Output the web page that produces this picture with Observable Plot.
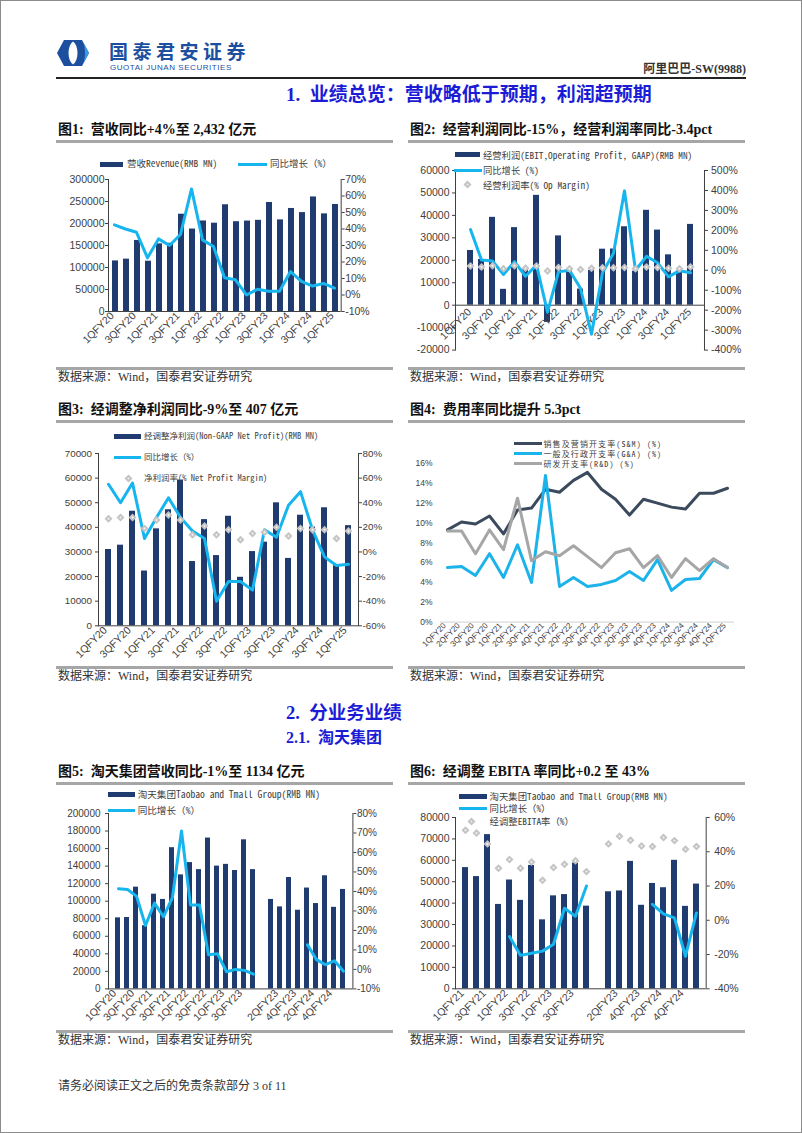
<!DOCTYPE html>
<html><head><meta charset="utf-8">
<script src="https://cdn.jsdelivr.net/npm/d3@7"></script>
<script src="https://cdn.jsdelivr.net/npm/@observablehq/plot@0.6"></script>
<style>
body{margin:0;background:#fff;}
#page{position:relative;width:802px;height:1133px;overflow:hidden;background:#fff;box-shadow:inset 0 0 0 1px #8c8c8c;font-family:"Liberation Serif","Noto Sans CJK SC",serif;}
.abs{position:absolute;white-space:nowrap;}
.ftitle{font-weight:bold;color:#111;}
.src{color:#333;}
.sec{font-weight:bold;color:#1c1cd6;}
.leg{font-family:"Noto Sans Mono CJK SC","Liberation Mono","Noto Sans CJK SC",monospace;color:#404040;}
</style></head><body><div id="page"></div>
<script>
// ---------------- data ----------------
const qAll = ["1QFY20","2QFY20","3QFY20","4QFY20","1QFY21","2QFY21","3QFY21","4QFY21","1QFY22","2QFY22","3QFY22","4QFY22","1QFY23","2QFY23","3QFY23","4QFY23","1QFY24","2QFY24","3QFY24","4QFY24","1QFY25"];
// Fig 1
const revenue = [114924,119017,161456,114314,153751,155059,221084,187395,205740,200690,242580,204052,205555,207176,247756,208200,234156,224790,260348,221874,243236];
const revenueYoY = [42.5,40,38,22.5,34,30,36.7,64.3,33.4,29.4,10.4,9.2,0,3.5,2.3,2.3,14.2,8.2,5.4,7,4.1];
// Fig 2
const opProfit = [24375,20364,39134,7064,34557,15719,48929,-7653,30874,15806,7200,15500,24943,25015,34938,15142,42271,33462,22437,15200,35989];
const opYoY = [204,52,47,-21,43,-30,26,-210,-8,0,-90,-320,-12,85,398,0,70,38,-33,-2,-12];
const opMargin = [21,16,23,8,23,10,21,-4,14,8,4,10,13,13,14,8,16,14,10,8,16];
// Fig 3
const nonGaap = [30999,32752,46545,22248,39389,47135,59207,26108,43141,28524,44502,19710,30154,33981,49962,27375,44923,40113,47950,24426,40691];
const nonGaapYoY = [55,40,56,11,28,44,28,17,11,-40,-24,-24,-31,18,12,38,49,18,-4,-11,-10];
const netMargin = [27,28,28,19,26,30,26,14,21,14,18,10,15,16,20,13,19,18,18,11,17];
// Fig 4
const smRate = [9.3,10.1,9.9,10.7,8.9,11.3,11.5,13.4,13.1,14.3,15.1,13.4,12.4,10.8,12.4,12.0,11.6,11.4,13.0,13.0,13.5];
const gaRate = [5.5,5.6,4.7,6.9,4.5,7.8,4.0,14.8,3.6,4.5,3.6,3.8,4.2,5.1,4.2,6.3,3.2,4.3,4.4,6.3,5.5];
const rdRate = [9.2,9.2,6.9,9.3,7.3,12.5,6.2,7.1,6.7,7.7,6.6,5.5,7.0,7.4,5.5,6.7,4.5,6.4,5.2,6.4,5.5];
// Fig 5 (old segment 1QFY20-4QFY23, restated 1QFY23-1QFY25)
const ttOldQ = qAll.slice(0,16);
const ttOldRev = [81000,81400,116000,72000,108000,102000,161000,130000,144000,136000,172000,140000,142000,135000,170000,136000];
const ttOldYoY = [41.4,41,37.6,22.5,34,27,37,71,33,33,7.5,8,-1.2,0,-0.5,-2.4];
const ttNewQ = qAll.slice(12);
const ttNewRev = [102000,93500,127000,89700,115000,97300,129000,93000,113400];
const ttNewYoY = [null,null,null,null,12.6,5,2.4,4.4,-0.9];
// Fig 6
const ebOldQ = qAll.slice(4,16);
const ebOld = [56600,52400,72000,39400,50800,41300,57600,32200,43400,44000,58700,38600];
const ebOldYoY = [null,null,null,null,-9.5,-20.5,-19.3,-18,-14,7,2.4,20];
const ebOldMargin = [52.5,51,44.6,30.4,35.5,30.4,34,23.3,30.8,32.7,34.7,28.4];
const ebNewQ = qAll.slice(12);
const ebNew = [45300,45700,59500,39000,49200,47200,60000,38500,48900];
const ebNewYoY = [null,null,null,null,9.3,3.7,1.4,-21,4.3];
const ebNewMargin = [44.6,49,46.7,43.4,43,48.3,46.5,41.4,43];

// ---------------- helpers ----------------
const navy = "#1f3b70", cyan = "#17b5ee", grey = "#c4c4c4", axisC = "#404040";
const page = document.getElementById("page");
function addDiv(html, css, cls) { const d = document.createElement("div"); d.className = "abs " + (cls || ""); d.innerHTML = html; Object.assign(d.style, css); page.appendChild(d); return d; }
function rule(x, y, w, h, c) { addDiv("", {left: x + "px", top: y + "px", width: w + "px", height: h + "px", background: c}); }
function textAt(x, yc, str, fs, cls, extra) { return addDiv(str, Object.assign({left: x + "px", top: (yc - fs * 0.7) + "px", fontSize: fs + "px", lineHeight: (fs * 1.4) + "px"}, extra || {}), cls); }
const M = {l: 70, r: 60, t: 30, b: 60};
function dims(f) { return {width: f.x1 - f.x0 + M.l + M.r, height: f.y1 - f.y0 + M.t + M.b, marginLeft: M.l, marginRight: M.r, marginTop: M.t, marginBottom: M.b}; }
function mount(svg, f) { const d = document.createElement("div"); d.style.position = "absolute"; d.style.left = (f.x0 - M.l) + "px"; d.style.top = (f.y0 - M.t) + "px"; d.appendChild(svg); page.appendChild(d); }
const baseStyle = {background: "transparent", overflow: "visible", fontFamily: "'Liberation Sans', Arial, sans-serif", color: axisC, maxWidth: "none"};

function barPlot(f, keys, rows, labels, o) {
  return Plot.plot({
    ...dims(f),
    style: {...baseStyle, fontSize: o.fs + "px"},
    x: {type: "band", domain: keys, paddingInner: 0.5, paddingOuter: 0.25, axis: null},
    y: {domain: o.domain},
    marks: [
      Plot.barY(rows, {x: "k", y: "v", fill: navy}),
      Plot.ruleY([0], {stroke: axisC}),
      Plot.axisY({anchor: "left", label: null, ticks: o.ticks, tickSize: 3, tickPadding: o.lp, tickFormat: d => String(d), fontSize: o.fs}),
      Plot.frame({anchor: "left", stroke: axisC}),
      Plot.text(labels, {x: "k", text: "t", ...(o.zeroLabels ? {y: () => 0} : {frameAnchor: "bottom"}), rotate: -45, textAnchor: "end", dx: -1, dy: 5, fontSize: o.xfs || o.fs})
    ]
  });
}
function linePlot(f, keys, rows, o) {
  const withM = rows.filter(d => d.m != null);
  return Plot.plot({
    ...dims(f),
    style: {...baseStyle, fontSize: o.fs + "px"},
    x: {type: "point", domain: keys, padding: 0.5, axis: null},
    y: {domain: o.domain},
    marks: [
      Plot.line(rows, {x: "k", y: "g", stroke: cyan, strokeWidth: 3}),
      Plot.dot(withM, {x: "k", y: "m", symbol: "diamond2", r: 3.6, fill: grey}),
      Plot.dot(withM, {x: "k", y: "m", symbol: "diamond2", r: 1.1, fill: "#f4f4f4"}),
      Plot.axisY({anchor: "right", label: null, ticks: o.ticks, tickSize: 3, tickPadding: o.rp, tickFormat: d => d + "%", fontSize: o.fs}),
      Plot.frame({anchor: "right", stroke: axisC})
    ]
  });
}
function legBar(x, w, yc) { rule(x, yc - 2.5, w, 5, navy); }
function legLine(x, w, yc, c) { rule(x, yc - 1.5, w, 3, c || cyan); }
function legDia(x, yc) { addDiv('<svg width="9" height="9"><path d="M4.5 0.5L8.5 4.5L4.5 8.5L0.5 4.5Z" fill="#c4c4c4"/><path d="M4.5 3.4L5.6 4.5L4.5 5.6L3.4 4.5Z" fill="#f4f4f4"/></svg>', {left: (x - 4.5) + "px", top: (yc - 4.5) + "px", lineHeight: "0"}); }
function legText(x, yc, s, fs, lh, extra) { lh = lh || fs * 1.4; textAt(x, yc, s, fs, "leg", Object.assign({lineHeight: lh + "px", top: (yc - lh / 2) + "px"}, extra || {})); }
const ticksR = (a, b, s) => d3.range(a, b + s / 2, s);

// ---------------- header ----------------
addDiv('<svg width="34" height="28" viewBox="0 0 34 28"><path d="M8 1H26L33 14L26 27H8L1 14Z" fill="#1d4f9f"/><path d="M26 1L33 14L26 27C30 20 30 8 26 1Z" fill="#3b9ae1"/><path d="M17 2.5C11 7 11 21 17 25.5C23 21 23 7 17 2.5Z" fill="#fff"/></svg>', {left: "56px", top: "39px", lineHeight: "0"});
textAt(109, 50.5, "国泰君安证券", 19, "", {fontFamily: "'Noto Sans CJK SC'", fontWeight: "bold", color: "#1d4f9f", letterSpacing: "4.5px", lineHeight: "20px", top: "40.5px"});
textAt(110, 67, "GUOTAI JUNAN SECURITIES", 8, "", {fontFamily: "'Liberation Sans'", color: "#1d4f9f", letterSpacing: "0.55px", lineHeight: "9px", top: "62.5px"});
addDiv("阿里巴巴-SW(9988)", {left: "546px", width: "200px", textAlign: "right", top: "61px", fontSize: "12px", lineHeight: "16px", fontWeight: "bold", color: "#333"});
rule(56, 77, 690, 1.5, "#222");
textAt(286, 95, "1.&nbsp;&nbsp;业绩总览：营收略低于预期，利润超预期", 19, "sec");

// titles / sources
function figTitle(x, yc, s) { textAt(x, yc, s, 14, "ftitle"); rule(x - 2, yc + 10, 337, 2.5, "#a6a6a6"); }
function source(x, yl) { rule(x - 2, yl, 337, 2.5, "#a6a6a6"); textAt(x, yl + 10, "数据来源：Wind，国泰君安证券研究", 12, "src"); }
figTitle(58, 130, "图1:&nbsp;&nbsp;营收同比+4%至 2,432 亿元");
figTitle(410, 130, "图2:&nbsp;&nbsp;经营利润同比-15%，经营利润率同比-3.4pct");
source(58, 367); source(410, 367);
figTitle(58, 410, "图3:&nbsp;&nbsp;经调整净利润同比-9%至 407 亿元");
figTitle(410, 410, "图4:&nbsp;&nbsp;费用率同比提升 5.3pct");
source(58, 666); source(410, 666);
textAt(286, 714, "2.&nbsp;&nbsp;分业务业绩", 18.5, "sec");
textAt(286, 738, "2.1.&nbsp;&nbsp;淘天集团", 16, "sec");
figTitle(58, 772, "图5:&nbsp;&nbsp;淘天集团营收同比-1%至 1134 亿元");
figTitle(410, 772, "图6:&nbsp;&nbsp;经调整 EBITA 率同比+0.2 至 43%");
source(58, 1030); source(410, 1030);
textAt(58, 1086, "请务必阅读正文之后的免责条款部分 3 of 11", 12, "src");

const every2 = qAll.map((q, i) => ({k: q, t: q})).filter((d, i) => i % 2 === 0);

// ---------------- Fig 1 ----------------
{
  const f = {x0: 108.3, x1: 341, y0: 179, y1: 311};
  const rows = qAll.map((q, i) => ({k: q, v: revenue[i], g: revenueYoY[i]}));
  mount(barPlot(f, qAll, rows, every2, {domain: [0, 300000], ticks: ticksR(0, 300000, 50000), lp: 1, fs: 10.5}), f);
  mount(linePlot(f, qAll, rows, {domain: [-10, 70], ticks: ticksR(-10, 70, 10), rp: 1, fs: 10.5}), f);
  legBar(100, 23, 164); legText(127, 164, "营收Revenue(RMB MN)", 9.5);
  legLine(238, 29, 164); legText(270, 164, "同比增长（%）", 9.5);
}
// ---------------- Fig 2 ----------------
{
  const f = {x0: 455, x1: 704, y0: 170.4, y1: 350};
  const rows = qAll.map((q, i) => ({k: q, v: opProfit[i], g: opYoY[i], m: opMargin[i]}));
  mount(barPlot(f, qAll, rows, every2, {domain: [-20000, 60000], ticks: ticksR(-20000, 60000, 10000), lp: 3, fs: 10.5, zeroLabels: true}), f);
  mount(linePlot(f, qAll, rows, {domain: [-400, 500], ticks: ticksR(-400, 500, 100), rp: 3.5, fs: 10.5}), f);
  legBar(455, 25, 154.5); legText(483, 154.5, "经营利润(EBIT,Operating Profit, GAAP)(RMB MN)", 9.3, 12);
  legLine(454, 28, 170); legText(483, 170, "同比增长 (%)", 9.3, 12);
  legDia(467, 184.6); legText(483, 184.6, "经营利润率(% Op Margin)", 9.3, 12);
}
// ---------------- Fig 3 ----------------
{
  const f = {x0: 97.7, x1: 357.7, y0: 452.7, y1: 625};
  const rows = qAll.map((q, i) => ({k: q, v: nonGaap[i], g: nonGaapYoY[i], m: netMargin[i]}));
  mount(barPlot(f, qAll, rows, every2, {domain: [0, 70000], ticks: ticksR(0, 70000, 10000), lp: 3.5, fs: 9.8, xfs: 10.5}), f);
  mount(linePlot(f, qAll, rows, {domain: [-60, 80], ticks: ticksR(-60, 80, 20), rp: 1, fs: 9.8}), f);
  legBar(114, 27, 436); legText(144, 436, "经调整净利润(Non-GAAP Net Profit)(RMB MN)", 8.5);
  legLine(114, 27, 457); legText(144, 457, "同比增长（%）", 8.5);
  legDia(128, 478); legText(144, 478, "净利润率(% Net Profit Margin)", 8.5);
}
// ---------------- Fig 4 ----------------
{
  const f = {x0: 440, x1: 734, y0: 463.4, y1: 622};
  const series = [
    {name: "S&M", vals: smRate, c: "#3c4a5e"},
    {name: "G&A", vals: gaRate, c: "#1cb2ea"},
    {name: "R&D", vals: rdRate, c: "#a6a6a6"}
  ];
  const rows = series.flatMap(s => qAll.map((q, i) => ({k: q, v: s.vals[i], s: s.name})));
  const svg = Plot.plot({
    ...dims(f),
    style: {...baseStyle, fontSize: "8.5px"},
    x: {type: "point", domain: qAll, padding: 0.5, axis: null},
    y: {domain: [0, 16]},
    color: {domain: series.map(s => s.name), range: series.map(s => s.c)},
    marks: [
      Plot.ruleY([0], {stroke: "#d0d0d0"}),
      Plot.line(rows, {x: "k", y: "v", z: "s", stroke: "s", strokeWidth: 3}),
      Plot.axisY({anchor: "left", label: null, ticks: ticksR(0, 16, 2), tickSize: 0, tickPadding: 8, tickFormat: d => d + "%", fontSize: 8.5}),
      Plot.text(qAll.map(q => ({k: q, t: q})), {x: "k", text: "t", frameAnchor: "bottom", rotate: -45, textAnchor: "end", dx: -1, dy: 4, fontSize: 8})
    ]
  });
  mount(svg, f);
  const ls = {letterSpacing: "1.1px"};
  legLine(514, 28, 443, "#3c4a5e"); legText(543.5, 443, "销售及营销开支率(S&M) (%)", 8, 9, ls);
  legLine(514, 28, 453, "#1cb2ea"); legText(543.5, 453, "一般及行政开支率(G&A) (%)", 8, 9, ls);
  legLine(514, 28, 463, "#a6a6a6"); legText(543.5, 463, "研发开支率(R&D) (%)", 8, 9, ls);
}
// ---------------- Fig 5 ----------------
{
  const f = {x0: 108.3, x1: 352.7, y0: 813.3, y1: 988.7};
  const slots = [...ttOldQ.map((q, i) => ({q, v: ttOldRev[i], g: ttOldYoY[i]})), {q: "", v: null, g: null}, ...ttNewQ.map((q, i) => ({q, v: ttNewRev[i], g: ttNewYoY[i]}))];
  const keys = slots.map((d, i) => String(i));
  const rows = slots.map((d, i) => ({k: String(i), v: d.v, g: d.g}));
  const labels = slots.map((d, i) => ({k: String(i), t: d.q})).filter((d, i) => i % 2 === 0 && d.t);
  mount(barPlot(f, keys, rows.filter(d => d.v != null), labels, {domain: [0, 200000], ticks: ticksR(0, 200000, 20000), lp: 5, fs: 10, xfs: 10.5}), f);
  mount(linePlot(f, keys, rows, {domain: [-10, 80], ticks: ticksR(-10, 80, 10), rp: 1, fs: 10}), f);
  legBar(108, 27, 794.3); legText(137.7, 794.3, "淘天集团Taobao and Tmall Group(RMB MN)", 9.6, 13);
  legLine(108, 27, 810.7); legText(137.7, 810.7, "同比增长（%）", 9.6, 13);
}
// ---------------- Fig 6 ----------------
{
  const f = {x0: 455, x1: 705.7, y0: 817.4, y1: 988.7};
  const slots = [...ebOldQ.map((q, i) => ({q, v: ebOld[i], g: ebOldYoY[i], m: ebOldMargin[i]})), {q: "", v: null, g: null, m: null}, ...ebNewQ.map((q, i) => ({q, v: ebNew[i], g: ebNewYoY[i], m: ebNewMargin[i]}))];
  const keys = slots.map((d, i) => String(i));
  const rows = slots.map((d, i) => ({k: String(i), v: d.v, g: d.g, m: d.m}));
  const labels = slots.map((d, i) => ({k: String(i), t: d.q})).filter((d, i) => i % 2 === 0 && d.t);
  mount(barPlot(f, keys, rows.filter(d => d.v != null), labels, {domain: [0, 80000], ticks: ticksR(0, 80000, 10000), lp: 3, fs: 10.5}), f);
  mount(linePlot(f, keys, rows, {domain: [-40, 60], ticks: ticksR(-40, 60, 20), rp: 5, fs: 10.5}), f);
  legBar(459, 28, 796.5); legText(489.5, 796.5, "淘天集团Taobao and Tmall Group(RMB MN)", 9.4, 11);
  legLine(459, 28, 808.8); legText(489.5, 808.8, "同比增长（%）", 9.4, 11);
  legDia(471, 821.1); legText(489.5, 821.1, "经调整EBITA率（%）", 9.4, 11);
}
</script></body></html>
